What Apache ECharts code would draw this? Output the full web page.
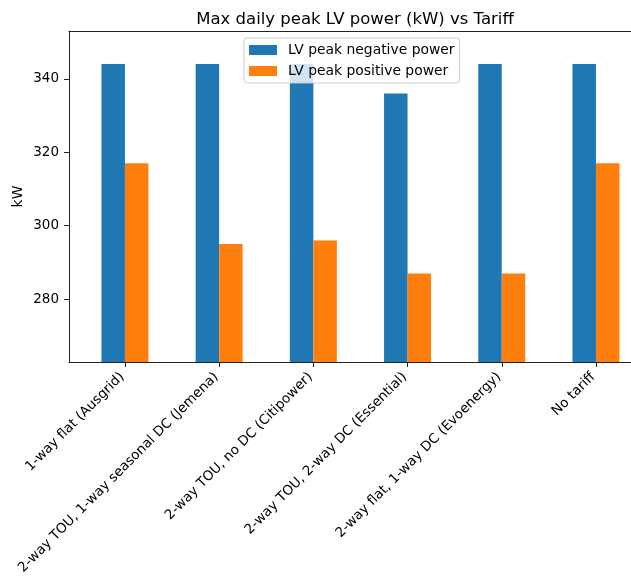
<!DOCTYPE html>
<html>
<head>
<meta charset="utf-8">
<script src="https://cdn.jsdelivr.net/npm/echarts@6/dist/echarts.min.js"></script>
<style>
  html, body { margin: 0; padding: 0; background: #fff; }
  #chart { width: 631px; height: 579px; }
</style>
</head>
<body>
<div id="chart"></div>
<script>
// Tariff scenarios along the x axis
const tariffs = [
  '1-way flat (Ausgrid)',
  '2-way TOU, 1-way seasonal DC (Jemena)',
  '2-way TOU, no DC (Citipower)',
  '2-way TOU, 2-way DC (Essential)',
  '2-way flat, 1-way DC (Evoenergy)',
  'No tariff'
];
// Daily peak LV power, kW
const peakNegative = [344, 344, 344, 336, 344, 344];
const peakPositive = [317, 295, 296, 287, 287, 317];
const yTicks = [280, 300, 320, 340];
const yMin = 262.9;
const yMax = 353;
const xMin = -0.594;
const xMax = 5.372;

const FONT = 'DejaVu Sans';
const chart = echarts.init(document.getElementById('chart'), null, { renderer: 'canvas' });

const frameLine = { show: true, onZero: false, lineStyle: { color: '#222', width: 1 } };
const tickStyle = { color: '#222', width: 1 };
const xPositions = tariffs.map((_, i) => i);
const toPoints = (vals) => vals.map((v, i) => [i, v]);

chart.setOption({
  animation: false,
  backgroundColor: '#fff',
  title: {
    text: 'Max daily peak LV power (kW) vs Tariff',
    left: 350,
    textAlign: 'center',
    top: 6,
    textStyle: { fontFamily: FONT, fontSize: 16.5, fontWeight: 'normal', color: '#000' }
  },
  legend: {
    orient: 'vertical',
    left: 244,
    top: 38,
    padding: [5, 5, 5, 5],
    itemGap: 7,
    itemWidth: 28,
    itemHeight: 10,
    backgroundColor: 'rgba(255,255,255,0.8)',
    borderColor: '#cccccc',
    borderWidth: 1,
    borderRadius: 3,
    icon: 'rect',
    textStyle: { fontFamily: FONT, fontSize: 13.9, color: '#000', padding: [0, 0, 0, 6] },
    data: ['LV peak negative power', 'LV peak positive power']
  },
  grid: { left: 69, top: 31, width: 562, height: 331, outerBoundsMode: 'none', containLabel: false },
  xAxis: [
    {
      type: 'value', min: xMin, max: xMax, position: 'bottom', z: 10,
      axisLine: frameLine,
      axisTick: { show: true, length: 5, customValues: xPositions, lineStyle: tickStyle },
      axisLabel: {
        customValues: xPositions,
        formatter: (v) => tariffs[Math.round(v)],
        rotate: 45, margin: 10, padding: [0, 4, 0, 0],
        fontFamily: FONT, fontSize: 13.5, color: '#000'
      },
      splitLine: { show: false }
    },
    {
      type: 'value', min: xMin, max: xMax, position: 'top', z: 10,
      axisLine: frameLine, axisTick: { show: false }, axisLabel: { show: false }, splitLine: { show: false }
    }
  ],
  yAxis: {
    type: 'value', min: yMin, max: yMax, z: 10,
    name: 'kW', nameLocation: 'middle', nameRotate: 90, nameGap: 44, nameMoveOverlap: false,
    nameTextStyle: { fontFamily: FONT, fontSize: 13.9, color: '#000' },
    axisLine: frameLine,
    axisTick: { show: true, length: 5, customValues: yTicks, lineStyle: tickStyle },
    axisLabel: { margin: 10, customValues: yTicks, fontFamily: FONT, fontSize: 13.5, color: '#000' },
    splitLine: { show: false }
  },
  series: [
    {
      name: 'LV peak negative power', type: 'bar', xAxisIndex: 0,
      data: toPoints(peakNegative), barWidth: 23.5, barGap: '0%',
      itemStyle: { color: '#1f77b4' }
    },
    {
      name: 'LV peak positive power', type: 'bar', xAxisIndex: 0,
      data: toPoints(peakPositive), barWidth: 23.5, barGap: '0%',
      itemStyle: { color: '#ff7f0e' }
    }
  ]
});
</script>
</body>
</html>
